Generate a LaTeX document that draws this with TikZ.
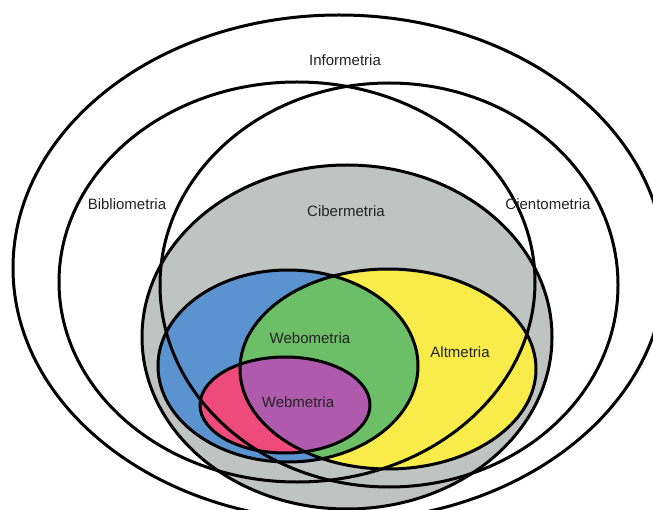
\documentclass[tikz,border=0pt]{standalone}
\usepackage{fontspec}
\setmainfont{Liberation Sans}
\definecolor{cibergray}{HTML}{BFC3C1}
\definecolor{webblue}{HTML}{5B93D1}
\definecolor{webgreen}{HTML}{6DBF67}
\definecolor{altyellow}{HTML}{F7EC4A}
\definecolor{webpink}{HTML}{EE4B7C}
\definecolor{webpurple}{HTML}{B05AAD}
\definecolor{labeltext}{HTML}{222222}
\tikzset{
  setline/.style={black, line width=3pt},
  setlabel/.style={text=labeltext, font=\fontsize{15}{18}\selectfont, inner sep=0pt}
}

\begin{document}
\begin{tikzpicture}[x=1pt, y=-1pt]
\useasboundingbox (0,0) rectangle (653,510);
% filled sets
\fill[cibergray] (347,337) ellipse [x radius=205pt, y radius=172pt];
\fill[webblue] (288,366) ellipse [x radius=130pt, y radius=96pt];
\fill[altyellow] (388,369) ellipse [x radius=148pt, y radius=100pt];
\begin{scope}
\clip (288,366) ellipse [x radius=130pt, y radius=96pt];
\fill[webgreen] (388,369) ellipse [x radius=148pt, y radius=100pt];
\end{scope}
\fill[webpink] (285,405) ellipse [x radius=85pt, y radius=48pt];
\begin{scope}
\clip (288,366) ellipse [x radius=130pt, y radius=96pt];
\clip (388,369) ellipse [x radius=148pt, y radius=100pt];
\fill[webpurple] (285,405) ellipse [x radius=85pt, y radius=48pt];
\end{scope}
% outlines
\draw[setline] (339,268) ellipse [x radius=326pt, y radius=253pt];
\draw[setline] (297,282) ellipse [x radius=238pt, y radius=200pt];
\draw[setline] (389,285) ellipse [x radius=229pt, y radius=202pt];
\draw[setline] (347,337) ellipse [x radius=205pt, y radius=172pt];
\draw[setline] (288,366) ellipse [x radius=130pt, y radius=96pt];
\draw[setline] (388,369) ellipse [x radius=148pt, y radius=100pt];
\draw[setline] (285,405) ellipse [x radius=85pt, y radius=48pt];
% labels
\node[setlabel] (info) at (345,60) {Informetria};
\node[setlabel] (biblio) at (127,204) {Bibliometria};
\node[setlabel] (ciento) at (548,204) {Cientometria};
\node[setlabel] (ciber) at (346,211) {Cibermetria};
\node[setlabel] (webo) at (310,338) {Webometria};
\node[setlabel] (alt) at (460,352) {Altmetria};
\node[setlabel] (web) at (298,402) {Webmetria};
\end{tikzpicture}
\end{document}
